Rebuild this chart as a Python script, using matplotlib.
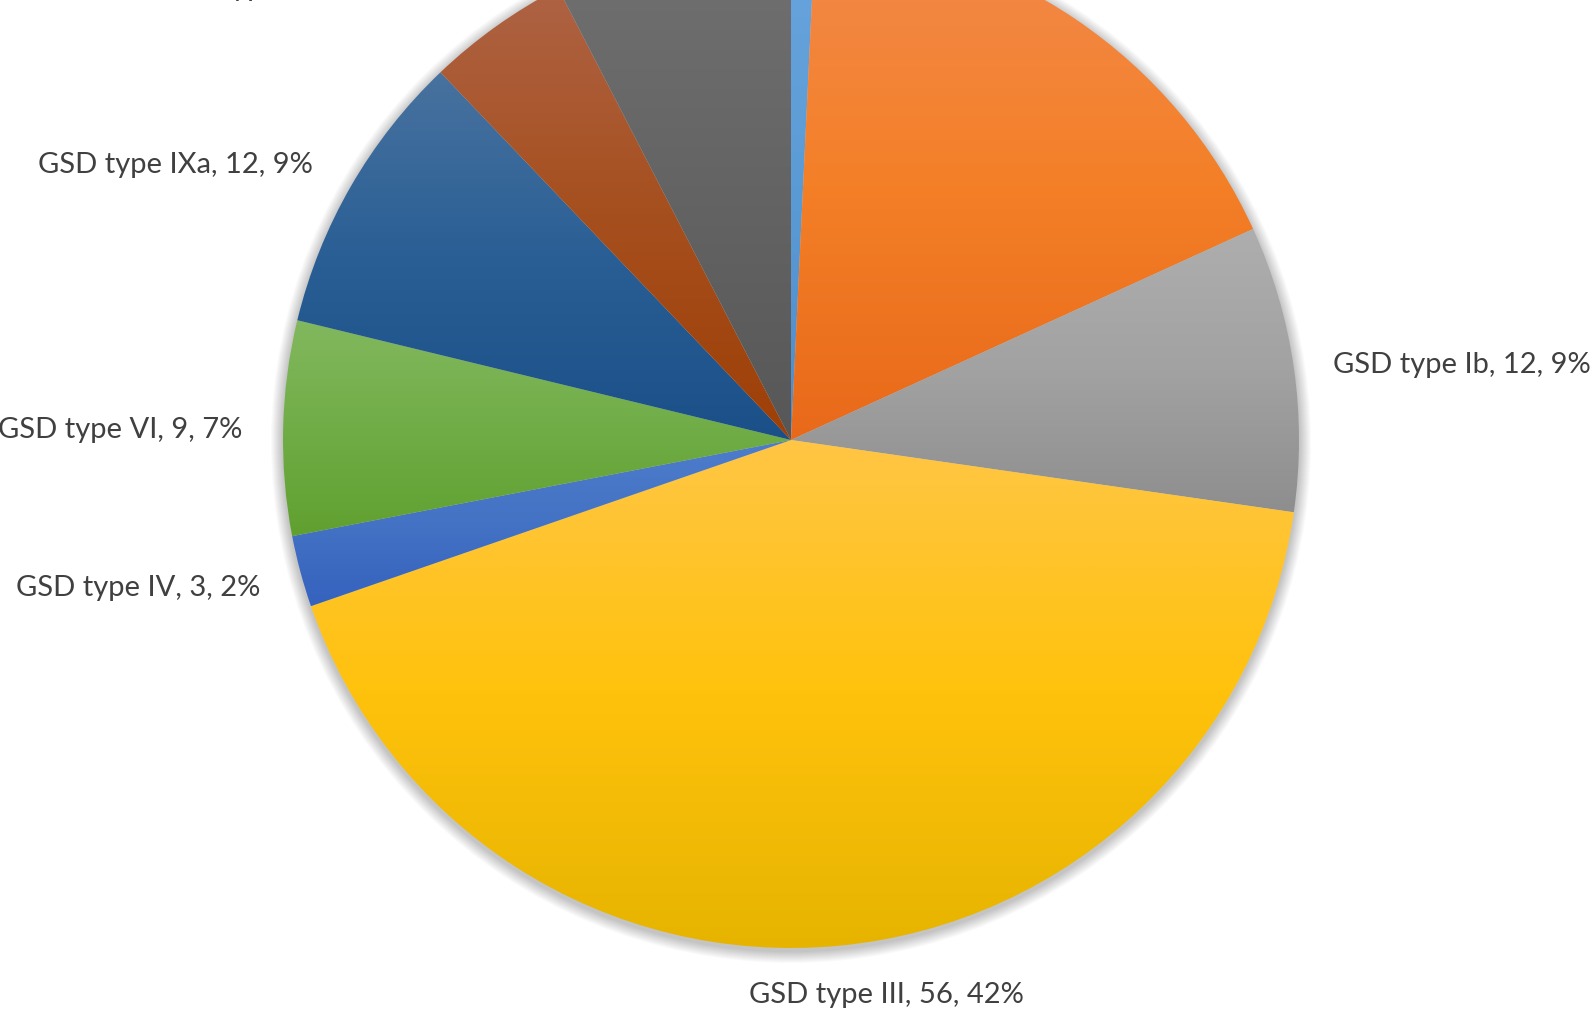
import numpy as np
import matplotlib
matplotlib.use("Agg")
import matplotlib.pyplot as plt
from matplotlib.patches import Circle
from matplotlib.colors import LinearSegmentedColormap

# ---- data ----
categories = ["GSD type 0", "GSD type Ia", "GSD type Ib", "GSD type III", "GSD type IV",
              "GSD type VI", "GSD type IXa", "GSD type IXb", "GSD type IXc"]
counts = [1, 23, 12, 56, 3, 9, 12, 6, 10]
base_colors = ["#5B9BD5", "#ED7D31", "#A5A5A5", "#FFC000", "#4472C4",
               "#70AD47", "#255E91", "#9E480E", "#636363"]
# gradient stops (top, middle, bottom) for each slice
grad_stops = [("#6AA5DE", "#5B9BD5", "#4E8CCB"),
              ("#F28A4B", "#F47F27", "#E8691A"),
              ("#AEAEAE", "#A2A2A2", "#8E8E8E"),
              ("#FFC645", "#FFC20C", "#E6B400"),
              ("#4E7DCC", "#4472C4", "#3462BE"),
              ("#82B85E", "#70AD47", "#60A02F"),
              ("#48729F", "#2A5F95", "#1A4F88"),
              ("#AE6344", "#A64F1E", "#9E3F06"),
              ("#717171", "#646464", "#575757")]

total = sum(counts)
pcts = [int(np.floor(c / total * 100 + 0.5)) for c in counts]
labels = [f"{n}, {c}, {p}%" for n, c, p in zip(categories, counts, pcts)]

# label anchor positions (pixel coords, y downward) and alignment
label_pos = [(900, -40, "left"), (1300, -10, "left"), (1333, 373, "left"),
             (886, 1003, "center"), (260, 596, "right"), (242, 438, "right"),
             (313, 173, "right"), (415, -4, "right"), (600, -40, "right")]

W, H = 1593, 1024
fig = plt.figure(figsize=(W / 100, H / 100), dpi=100)
ax = fig.add_axes([0, 0, 1, 1])

cx, cy, R = 791, -440, 508

# soft shadow
for k in range(12):
    ax.add_patch(Circle((cx, cy - 3), R + 12 - k, facecolor="#000000",
                        edgecolor="none", alpha=0.02, zorder=0))

wedges, _ = ax.pie(counts, colors=base_colors, startangle=90, counterclock=False,
                   center=(cx, cy), radius=R, wedgeprops=dict(linewidth=0),
                   frame=True)

t = np.linspace(0, 1, 256)[:, None]
for w, (top, mid, bot) in zip(wedges, grad_stops):
    cmap = LinearSegmentedColormap.from_list("g", [bot, mid, top])
    ext = w.get_path().get_extents()
    w.set_facecolor("none")
    im = ax.imshow(t, cmap=cmap, vmin=0, vmax=1,
                   extent=(ext.x0, ext.x1, ext.y0, ext.y1), origin="lower",
                   aspect="auto", interpolation="bilinear", zorder=1)
    im.set_clip_path(w)

for lab, (x, y, ha) in zip(labels, label_pos):
    ax.text(x, -y, lab, ha=ha, va="baseline", fontsize=21, color="#404040",
            family=["Lato", "DejaVu Sans"], zorder=5)

ax.set_xlim(0, W)
ax.set_ylim(-H, 0)
ax.set_aspect("equal")
ax.axis("off")
fig.savefig("out.png", dpi=100)
